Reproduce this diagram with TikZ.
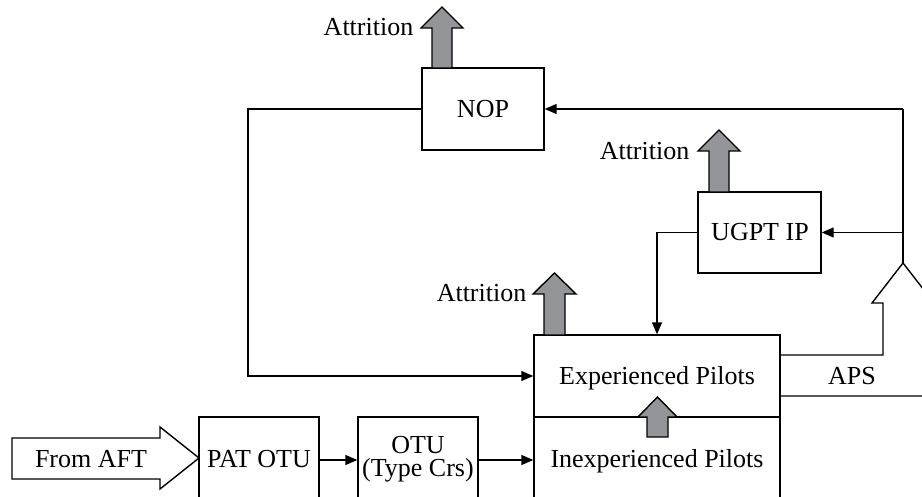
\documentclass[tikz,border=0pt]{standalone}
\usepackage{fontspec}
\setmainfont{Liberation Serif}
\usetikzlibrary{arrows.meta,fit,calc}
\definecolor{attrgray}{RGB}{147,149,152}
\begin{document}
\begin{tikzpicture}[x=0.5pt,y=-0.5pt, line width=0.7pt,
  box/.style={draw, inner sep=0pt},
  lbl/.style={inner sep=0pt, font=\fontsize{13}{11.5}\selectfont},
  conn/.style={-{Triangle[length=6pt,width=5pt]}},
  fatarrow/.style={draw, fill=attrgray, line join=miter},
  hollow/.style={draw, fill=white, line join=miter}]
\useasboundingbox (0,0) rectangle (922,497);
\clip (0,0) rectangle (922,497);
% boxes
\node[box, fit={(422,68)(544,150)}] (nop) {};
\node[box, fit={(698,192)(821,273)}] (ugpt) {};
\node[box, fit={(534,335)(780,417)}] (exp) {};
\node[box, fit={(534,417)(780,520)}] (inexp) {};
\node[box, fit={(199,417)(319,520)}] (pat) {};
\node[box, fit={(358,417)(478,520)}] (otu) {};
% texts
\node[lbl, anchor=base] (nopt) at (483,118) {NOP};
\node[lbl, anchor=base] (ugptt) at (760,241) {UGPT IP};
\node[lbl, anchor=base] (expt) at (657,385) {Experienced Pilots};
\node[lbl, anchor=base] (inexpt) at (657,467) {Inexperienced Pilots};
\node[lbl, anchor=base] (patt) at (259,467) {PAT OTU};
\node[lbl, align=center] (otut) at (418,459) {OTU\\(Type Crs)};
\node[lbl, anchor=base] (apst) at (852,385) {APS};
\node[lbl, anchor=base east] (a1) at (414,36) {Attrition};
\node[lbl, anchor=base east] (a2) at (690,160) {Attrition};
\node[lbl, anchor=base east] (a3) at (527,302) {Attrition};
% coordinates
\coordinate (split) at (903,263);
\coordinate (topc) at (903,109);
\coordinate (loopc) at (248,376);
\coordinate (rowy) at (0,460);
% connectors
\draw (split) -- (topc);
\draw[conn] (topc) -- (nop.east);
\draw[conn] (split |- ugpt.east) -- (ugpt.east);
\draw[conn] (nop.west) -| (loopc) -- (exp.west);
\draw[conn] (ugpt.west) -| (exp.north);
\draw[conn] (pat.east |- rowy) -- (otu.west |- rowy);
\draw[conn] (otu.east |- rowy) -- (inexp.west |- rowy);
% fat attrition arrows
\draw[fatarrow] (432,68) -- (432,28) -- (421,28) -- (442,7) -- (463,28) -- (452,28) -- (452,68) -- cycle;
\draw[fatarrow] (709,192) -- (709,151) -- (698,151) -- (719,130) -- (740,151) -- (729,151) -- (729,192) -- cycle;
\draw[fatarrow] (544,335) -- (544,294) -- (533,294) -- (554.5,273) -- (576,294) -- (565,294) -- (565,335) -- cycle;
\draw[fatarrow] (647,437) -- (647,417) -- (638,417) -- (657.5,397) -- (677,417) -- (668,417) -- (668,437) -- cycle;
% hollow arrows
\draw[hollow] (12,438) -- (160,438) -- (160,427) -- (199,458) -- (160,489) -- (160,479) -- (12,479) -- cycle;
\node[lbl, anchor=base] (aftt) at (91,467) {From AFT};
\draw[line join=miter] (780,355) -- (883,355) -- (883,303) -- (872,303) -- (split) -- (934,303) -- (923,303) -- (923,396) -- (780,396);
\end{tikzpicture}
\end{document}
